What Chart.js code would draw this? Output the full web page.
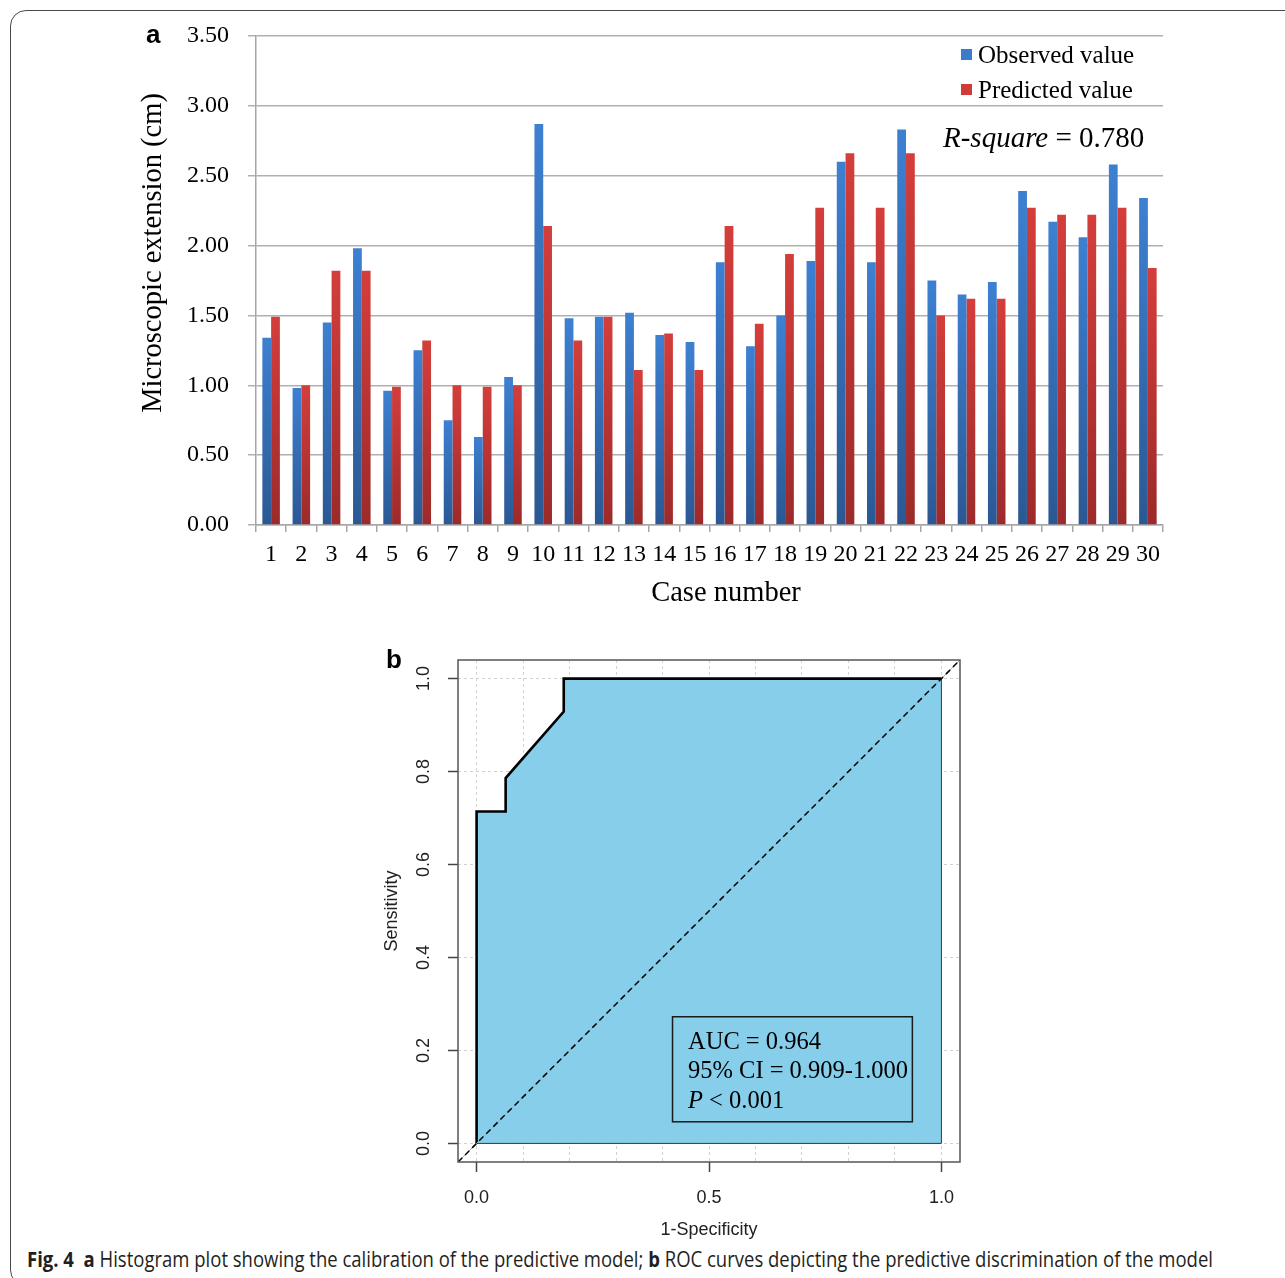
<!DOCTYPE html>
<html><head><meta charset="utf-8">
<script src="https://cdn.jsdelivr.net/npm/chart.js@4.4.1/dist/chart.umd.min.js"></script>
<style>
html,body{margin:0;padding:0;background:#fff;width:1285px;height:1278px;overflow:hidden;position:relative;}
#frame{position:absolute;left:10px;top:10px;width:1300px;height:1276px;border:1.5px solid #4a4a4a;border-radius:16px;box-sizing:border-box;}
#c1{position:absolute;left:0;top:0;}
#c2{position:absolute;left:360px;top:630px;}
.panel{position:absolute;font-family:"Liberation Sans",Arial,sans-serif;font-weight:bold;color:#000;line-height:1;}
#caption{position:absolute;left:27px;top:1247px;white-space:nowrap;font-family:"Liberation Sans Narrow","Open Sans",sans-serif;font-size:21px;line-height:24px;transform-origin:0 0;color:#231f20;}
#caption b{font-weight:bold;}
</style></head>
<body>
<div id="frame"></div>
<canvas id="c1" width="1285" height="625"></canvas>
<canvas id="c2" width="640" height="615"></canvas>
<div class="panel" style="left:146px;top:21px;font-size:26px;">a</div>
<div class="panel" style="left:386px;top:646px;font-size:26px;">b</div>
<div id="caption"><b>Fig. 4</b>&nbsp; <b>a</b> Histogram plot showing the calibration of the predictive model; <b>b</b> ROC curves depicting the predictive discrimination of the model</div>
<script>
// ---------- Panel a data ----------
const caseNumbers = ['1','2','3','4','5','6','7','8','9','10','11','12','13','14','15','16','17','18','19','20','21','22','23','24','25','26','27','28','29','30'];
const observedValues = [1.34,0.98,1.45,1.98,0.96,1.25,0.75,0.63,1.06,2.87,1.48,1.49,1.52,1.36,1.31,1.88,1.28,1.50,1.89,2.60,1.88,2.83,1.75,1.65,1.74,2.39,2.17,2.06,2.58,2.34];
const predictedValues = [1.49,1.00,1.82,1.82,0.99,1.32,1.00,0.99,1.00,2.14,1.32,1.49,1.11,1.37,1.11,2.14,1.44,1.94,2.27,2.66,2.27,2.66,1.50,1.62,1.62,2.27,2.22,2.22,2.27,1.84];
const seriesLabels = ['Observed value','Predicted value'];
const barYTicks = [0,0.5,1,1.5,2,2.5,3,3.5];
const rSquareLabel = ['R-square', ' = 0.780'];
const barAxisTitles = { x: 'Case number', y: 'Microscopic extension (cm)' };

// ---------- Panel b data ----------
const rocFpr = [0, 0, 0.0625, 0.0625, 0.1875, 0.1875, 1];
const rocTpr = [0, 0.714, 0.714, 0.786, 0.929, 1, 1];
const polygonFpr = [0, 1, 1];
const polygonTpr = [0, 0, 1];
const diagFpr = [-0.04, 1.04];
const diagTpr = [-0.04, 1.04];
const rocXGrid = [0,0.1,0.2,0.3,0.4,0.5,0.6,0.7,0.8,0.9,1.0];
const rocXLabelled = [0, 0.5, 1.0];
const rocYGrid = [0,0.2,0.4,0.6,0.8,1.0];
const aucLines = ['AUC = 0.964', '95% CI = 0.909-1.000', 'P < 0.001'];

const SERIF = '"Liberation Serif","Times New Roman",serif';
const SANS = '"Liberation Sans",Arial,sans-serif';

function barGradient(top, bottom) {
  return (ctx) => {
    const chart = ctx.chart;
    if (!chart.chartArea || ctx.type !== 'data' || !chart.scales.y) return top;
    const ys = chart.scales.y;
    const v = ctx.parsed ? ctx.parsed.y : ctx.raw;
    const y0 = ys.getPixelForValue(v), y1 = ys.getPixelForValue(0);
    if (!isFinite(y0) || !isFinite(y1) || Math.abs(y1 - y0) < 1) return top;
    const g = chart.ctx.createLinearGradient(0, y0, 0, y1);
    g.addColorStop(0, top); g.addColorStop(1, bottom);
    return g;
  };
}
const swatch = ['#3a7bcc', '#d03c3a'];

const barAnnotations = {
  id: 'barAnnotations',
  afterDraw(chart) {
    const c = chart.ctx;
    const area = chart.chartArea;
    c.save();
    // legend
    c.font = '25px ' + SERIF;
    c.textBaseline = 'alphabetic';
    chart.data.datasets.forEach((ds, i) => {
      const y = 63 + i * 35;
      c.fillStyle = swatch[i];
      c.fillRect(area.right - 202, y - 14, 11, 11);
      c.fillStyle = '#000';
      c.fillText(ds.label, area.right - 185, y);
    });
    // R-square
    let x = area.right - 220;
    c.font = 'italic 29px ' + SERIF;
    c.fillText(rSquareLabel[0], x, 147);
    x += c.measureText(rSquareLabel[0]).width;
    c.font = '29px ' + SERIF;
    c.fillText(rSquareLabel[1], x, 147);
    // axis titles
    c.font = '28.5px ' + SERIF;
    c.textAlign = 'center';
    c.textBaseline = 'middle';
    c.fillText(barAxisTitles.x, area.left + 470, 594);
    c.translate(154, area.top + 217);
    c.rotate(-Math.PI / 2);
    c.fillText(barAxisTitles.y, 0, 0);
    c.restore();
  }
};

new Chart(document.getElementById('c1'), {
  type: 'bar',
  data: {
    labels: caseNumbers,
    datasets: [
      { label: seriesLabels[0], data: observedValues, backgroundColor: barGradient('#3d80d2', '#2b5893'), borderWidth: 0 },
      { label: seriesLabels[1], data: predictedValues, backgroundColor: barGradient('#d43e3b', '#9c2a2a'), borderWidth: 0 }
    ]
  },
  options: {
    responsive: false, animation: false, devicePixelRatio: 1,
    layout: { padding: { left: 0, top: 36, right: 122, bottom: 0 } },
    datasets: { bar: { categoryPercentage: 0.58, barPercentage: 1.0 } },
    plugins: { legend: { display: false }, tooltip: { enabled: false } },
    scales: {
      x: {
        afterFit(s) { s.height = 100; },
        grid: { drawOnChartArea: false, drawTicks: true, tickLength: 7, color: '#a6a6a6', lineWidth: 1.5, offset: true },
        border: { display: true, color: '#a6a6a6', width: 1.5 },
        ticks: { font: { family: SERIF, size: 24 }, color: '#000', padding: 8, maxRotation: 0, autoSkip: false },
        title: { display: false }
      },
      y: {
        min: 0, max: 3.5,
        afterFit(s) { s.width = 256; },
        afterBuildTicks(s) { s.ticks = barYTicks.map(v => ({ value: v })); },
        grid: { color: '#b0b0b0', lineWidth: 1.5, tickLength: 8, drawTicks: true },
        border: { display: true, color: '#a6a6a6', width: 1.5 },
        ticks: { font: { family: SERIF, size: 24 }, color: '#000', padding: 19, callback: v => Number(v).toFixed(2) },
        title: { display: false }
      }
    }
  },
  plugins: [barAnnotations]
});

// ---------- Panel b ----------
const toPts = (xs, ys) => xs.map((x, i) => ({ x: x, y: ys[i] }));
const isLabelled = v => rocXLabelled.some(l => Math.abs(l - v) < 1e-6);

const rocDecor = {
  id: 'rocDecor',
  afterDatasetsDraw(chart) {
    const c = chart.ctx, a = chart.chartArea;
    const xs = chart.scales.x, ys = chart.scales.y;
    c.save();
    // AUC box
    const bx0 = xs.getPixelForValue(0.4215), bx1 = xs.getPixelForValue(0.9375);
    const by0 = ys.getPixelForValue(0.2725), by1 = ys.getPixelForValue(0.0465);
    c.strokeStyle = '#1a1a1a'; c.lineWidth = 1.5;
    c.strokeRect(bx0, by0, bx1 - bx0, by1 - by0);
    c.fillStyle = '#000';
    c.textBaseline = 'alphabetic';
    const tx = bx0 + 15.5;
    c.font = '24.5px ' + SERIF;
    c.fillText(aucLines[0], tx, by0 + 32);
    c.fillText(aucLines[1], tx, by0 + 61.5);
    c.font = 'italic 24.5px ' + SERIF;
    const p = aucLines[2].charAt(0);
    c.fillText(p, tx, by0 + 91);
    const pw = c.measureText(p).width;
    c.font = '24.5px ' + SERIF;
    c.fillText(aucLines[2].slice(1), tx + pw, by0 + 91);
    // plot box
    c.strokeStyle = '#555'; c.lineWidth = 1.5;
    c.strokeRect(a.left, a.top, a.right - a.left, a.bottom - a.top);
    c.restore();
  }
};

new Chart(document.getElementById('c2'), {
  type: 'line',
  data: {
    datasets: [
      { label: 'ROC', data: toPts(rocFpr, rocTpr), borderColor: '#000', borderWidth: 2.6, fill: 'origin', backgroundColor: '#87ceeb', pointRadius: 0, tension: 0, order: 4 },
      { label: 'AUC polygon', data: toPts(polygonFpr, polygonTpr), borderColor: '#3a3a3a', borderWidth: 1, fill: false, pointRadius: 0, order: 3 },
      { label: 'identity', data: toPts(diagFpr, diagTpr), borderColor: '#a9a9a9', borderWidth: 1, fill: false, pointRadius: 0, order: 2 },
      { label: 'reference', data: toPts(diagFpr, diagTpr), borderColor: '#000', borderWidth: 1.5, borderDash: [6, 4], fill: false, pointRadius: 0, order: 1 }
    ]
  },
  options: {
    responsive: false, animation: false, devicePixelRatio: 1,
    layout: { padding: { left: 0, top: 30, right: 40, bottom: 0 } },
    plugins: { legend: { display: false }, tooltip: { enabled: false } },
    scales: {
      x: {
        type: 'linear', min: -0.04, max: 1.04,
        afterFit(s) { s.height = 83; },
        afterBuildTicks(s) { s.ticks = rocXGrid.map(v => ({ value: v })); },
        grid: { color: '#d2d2d2', lineWidth: 1, tickLength: 10, tickWidth: 1.5,
                tickColor: ctx => (ctx.tick && isLabelled(ctx.tick.value)) ? '#444' : 'rgba(0,0,0,0)' },
        border: { display: false, dash: [3, 3] },
        ticks: { font: { family: SANS, size: 18 }, color: '#222', padding: 15, maxRotation: 0, autoSkip: false,
                 callback: v => isLabelled(v) ? Number(v).toFixed(1) : '' },
        title: { display: true, text: '1-Specificity', font: { family: SANS, size: 18 }, color: '#222', padding: { top: 0, bottom: 4 } }
      },
      y: {
        type: 'linear', min: -0.04, max: 1.04,
        afterFit(s) { s.width = 98; },
        afterBuildTicks(s) { s.ticks = rocYGrid.map(v => ({ value: v })); },
        grid: { color: '#d2d2d2', lineWidth: 1, tickLength: 10, tickWidth: 1.5, tickColor: '#444' },
        border: { display: false, dash: [3, 3] },
        ticks: { font: { family: SANS, size: 18 }, color: '#222', padding: 11, minRotation: 90, maxRotation: 90, crossAlign: 'center', autoSkip: false,
                 callback: v => Number(v).toFixed(1) },
        title: { display: true, text: 'Sensitivity', font: { family: SANS, size: 18 }, color: '#222', padding: { top: 21, bottom: 0 } }
      }
    }
  },
  plugins: [rocDecor]
});

// fit caption width to reference
const cap = document.getElementById('caption');
const w = cap.getBoundingClientRect().width;
cap.style.transform = 'scaleX(' + (1186 / w) + ')';
</script>
</body></html>
